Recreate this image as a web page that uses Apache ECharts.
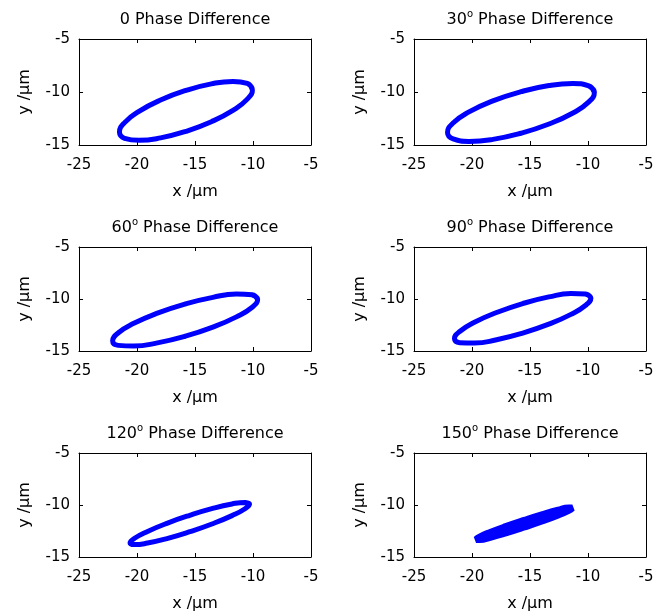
<!DOCTYPE html>
<html>
<head>
<meta charset="utf-8">
<title>Phase Difference</title>
<script src="https://cdn.jsdelivr.net/npm/echarts@6/dist/echarts.min.js"></script>
<style>
  html, body { margin: 0; padding: 0; background: #fff; }
  #chart { width: 664px; height: 614px; }
</style>
</head>
<body>
<div id="chart"></div>
<script>
// phase labels (degrees) of the six panels
var phases = ['0', '30', '60', '90', '120', '150'];

// axis ranges
var xRange = [-25, -5];
var yRange = [-15, -5];
var tickStep = 5;

// traced orbits [x, y] in um (loop starts at the right end,
// first two points repeated at the end so the loop closes smoothly)
var orbit0 = [[-10.05, -9.78], [-10.49, -9.19], [-11.73, -9.0], [-13.59, -9.23], [-15.78, -9.85],
  [-17.97, -10.76], [-19.83, -11.83], [-21.07, -12.89], [-21.51, -13.78], [-21.07, -14.37],
  [-19.83, -14.56], [-17.97, -14.33], [-15.78, -13.71], [-13.59, -12.8], [-11.73, -11.73],
  [-10.49, -10.67], [-10.05, -9.78], [-10.49, -9.19]];
var orbit30 = [[-9.45, -10.03], [-9.93, -9.43], [-11.3, -9.2], [-13.36, -9.39], [-15.78, -9.97],
  [-18.2, -10.84], [-20.26, -11.88], [-21.63, -12.93], [-22.11, -13.83], [-21.63, -14.43],
  [-20.26, -14.66], [-18.2, -14.47], [-15.78, -13.89], [-13.36, -13.02], [-11.3, -11.98],
  [-9.93, -10.93], [-9.45, -10.03], [-9.93, -9.43]];
var orbit60 = [[-9.6, -10.04], [-10.07, -9.6], [-11.43, -9.53], [-13.46, -9.84], [-15.85, -10.48],
  [-18.24, -11.36], [-20.27, -12.34], [-21.63, -13.27], [-22.1, -14.02], [-21.63, -14.46],
  [-20.27, -14.53], [-18.24, -14.22], [-15.85, -13.58], [-13.46, -12.7], [-11.43, -11.72],
  [-10.07, -10.79], [-9.6, -10.04], [-10.07, -9.6]];
var orbit90 = [[-9.75, -9.91], [-10.2, -9.52], [-11.47, -9.48], [-13.38, -9.8], [-15.63, -10.44],
  [-17.88, -11.3], [-19.79, -12.24], [-21.06, -13.12], [-21.51, -13.81], [-21.06, -14.2],
  [-19.79, -14.24], [-17.88, -13.92], [-15.63, -13.28], [-13.38, -12.42], [-11.47, -11.48],
  [-10.2, -10.6], [-9.75, -9.91], [-10.2, -9.52]];
var orbit120 = [[-10.3, -9.91], [-10.69, -9.75], [-11.81, -9.9], [-13.48, -10.33], [-15.45, -10.99],
  [-17.42, -11.76], [-19.09, -12.54], [-20.21, -13.2], [-20.6, -13.65], [-20.21, -13.81],
  [-19.09, -13.66], [-17.42, -13.23], [-15.45, -12.57], [-13.48, -11.8], [-11.81, -11.02],
  [-10.69, -10.36], [-10.3, -9.91], [-10.69, -9.75]];
var orbit150 = [[-11.35, -10.28], [-11.67, -10.28], [-12.57, -10.5], [-13.91, -10.92], [-15.5, -11.48],
  [-17.09, -12.08], [-18.43, -12.64], [-19.33, -13.08], [-19.65, -13.32], [-19.33, -13.32],
  [-18.43, -13.1], [-17.09, -12.68], [-15.5, -12.12], [-13.91, -11.52], [-12.57, -10.96],
  [-11.67, -10.52], [-11.35, -10.28], [-11.67, -10.28]];

var orbits = [orbit0, orbit30, orbit60, orbit90, orbit120, orbit150];
var strokeWidths = [5, 5, 5, 5, 5, 7];

var myChart = echarts.init(document.getElementById('chart'));

var fontFamily = '"DejaVu Sans", "Liberation Sans", Arial, sans-serif';
var panelLeft = [79, 414];
var panelTop = [39, 247, 453];
var panelHeight = [106, 104, 104];
var panelWidth = 232;

var grids = [], xAxes = [], yAxes = [], titles = [], series = [];

for (var i = 0; i < orbits.length; i++) {
  var col = i % 2, row = Math.floor(i / 2);
  grids.push({
    left: panelLeft[col], top: panelTop[row],
    width: panelWidth, height: panelHeight[row],
    containLabel: false
  });

  // title with superscript degree mark
  var txt = phases[i] === '0'
    ? '{n|0 Phase Difference}'
    : '{n|' + phases[i] + '}{s|o}{n| Phase Difference}';
  titles.push({
    text: txt,
    left: panelLeft[col] + panelWidth / 2,
    top: panelTop[row] - 30,
    textAlign: 'center',
    padding: 0,
    textStyle: {
      fontWeight: 'normal',
      rich: {
        n: { fontSize: 16, fontFamily: fontFamily, fontWeight: 'normal', color: '#000', lineHeight: 19, verticalAlign: 'bottom' },
        s: { fontSize: 10, fontFamily: fontFamily, fontWeight: 'normal', color: '#000', lineHeight: 19, verticalAlign: 'top' }
      }
    }
  });

  var tickCommon = { show: true, inside: true, length: 4, lineStyle: { color: '#000', width: 1 } };
  var lineCommon = { show: true, onZero: false, lineStyle: { color: '#000', width: 1 } };

  // bottom and top x axes
  xAxes.push({
    type: 'value', gridIndex: i, position: 'bottom',
    min: xRange[0], max: xRange[1], interval: tickStep,
    axisLine: lineCommon, axisTick: tickCommon, splitLine: { show: false },
    axisLabel: { color: '#000', fontSize: 15, fontFamily: fontFamily, margin: 13 },
    name: 'x /\u03bcm', nameLocation: 'middle', nameGap: 39,
    nameTextStyle: { color: '#000', fontSize: 16, fontFamily: fontFamily }
  });
  xAxes.push({
    type: 'value', gridIndex: i, position: 'top',
    min: xRange[0], max: xRange[1], interval: tickStep,
    axisLine: lineCommon, axisTick: tickCommon, splitLine: { show: false },
    axisLabel: { show: false }
  });

  // left and right y axes
  yAxes.push({
    type: 'value', gridIndex: i, position: 'left',
    min: yRange[0], max: yRange[1], interval: tickStep,
    axisLine: lineCommon, axisTick: tickCommon, splitLine: { show: false },
    axisLabel: { color: '#000', fontSize: 15, fontFamily: fontFamily, margin: 9 },
    name: 'y /\u03bcm', nameLocation: 'middle', nameGap: 46,
    nameTextStyle: { color: '#000', fontSize: 16, fontFamily: fontFamily }
  });
  yAxes.push({
    type: 'value', gridIndex: i, position: 'right',
    min: yRange[0], max: yRange[1], interval: tickStep,
    axisLine: lineCommon, axisTick: tickCommon, splitLine: { show: false },
    axisLabel: { show: false }
  });

  series.push({
    type: 'line',
    xAxisIndex: 2 * i,
    yAxisIndex: 2 * i,
    data: orbits[i],
    smooth: 0.5,
    symbol: 'none',
    lineStyle: { color: '#0000ff', width: strokeWidths[i] },
    animation: false
  });
}

myChart.setOption({
  animation: false,
  backgroundColor: '#fff',
  title: titles,
  grid: grids,
  xAxis: xAxes,
  yAxis: yAxes,
  series: series
});
</script>
</body>
</html>
